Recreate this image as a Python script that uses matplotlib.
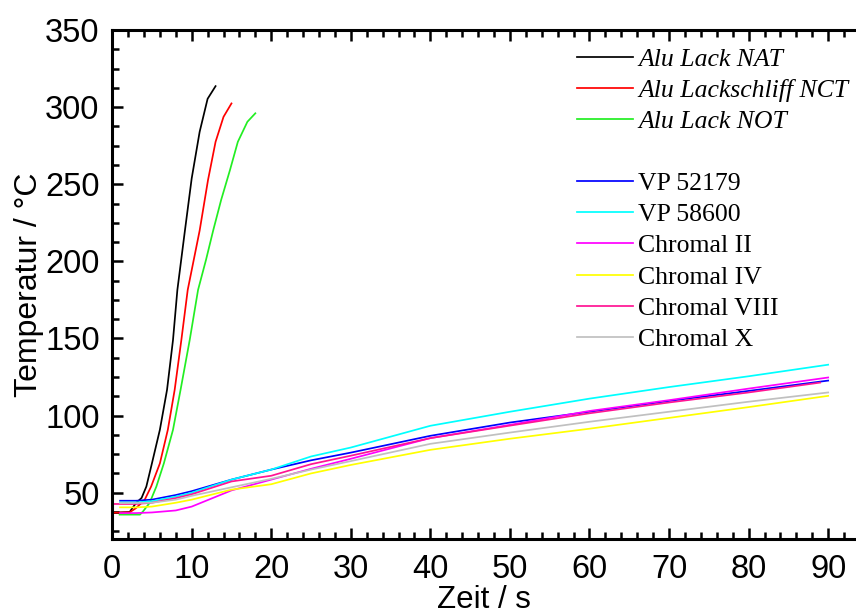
import matplotlib
matplotlib.use("Agg")
import matplotlib.pyplot as plt
from matplotlib.lines import Line2D
from matplotlib.ticker import MultipleLocator

# fast heating curves (aluminium lacquer samples)
t_nat = [0, 2.2, 3.0, 3.7, 4.3, 5.0, 6.0, 6.9, 7.65, 8.2, 9.1, 10.0, 11.0, 12.0, 13.0]
v_nat = [37, 37.5, 43.3, 46.6, 54, 69, 90.8, 116.7, 149, 181.5, 218, 253.8, 284, 305.4, 313.6]

t_nct = [0, 2.2, 3.0, 4.1, 4.9, 6.0, 7.0, 7.86, 8.7, 9.5, 11.0, 12.05, 13.0, 14.0, 15.0]
v_nct = [37, 37.3, 40, 45.5, 54, 69, 90.8, 116.7, 149, 181.5, 220, 252.7, 277.5, 293.7, 302.4]

t_not = [0.94, 3.5, 3.9, 4.7, 5.56, 6.5, 7.65, 8.6, 9.75, 10.8, 11.8, 12.7, 13.7, 14.8, 15.8, 17.0, 18.0]
v_not = [35.8, 35.8, 38, 43.3, 54, 69, 90.8, 116.7, 149, 181.5, 201, 220, 239.8, 259, 277.5, 290.5, 296]

# slow heating curves
t_slow = [1, 3, 5, 8, 10, 15, 20, 25, 30, 40, 50, 60, 70, 80, 90]
v_vp52179 = [44.8, 44.8, 45.5, 48.5, 51, 58.5, 65, 71, 76, 86.9, 95.5, 102.5, 109.5, 116, 122.7]
v_vp58600 = [43.7, 43.7, 44.5, 47.5, 50, 58.5, 65, 73.5, 79.3, 93.4, 102.5, 111, 118.5, 125.5, 133]
v_chr2 = [36.8, 36.8, 37.2, 38.5, 41, 51.5, 58.5, 65.5, 72, 85.4, 94, 103, 110, 117.5, 124.7]
v_chr4 = [40.5, 40.5, 41, 43.5, 45.5, 52, 55.5, 62.5, 68, 77.8, 85, 91.5, 98.5, 105.5, 112.8]
v_chrx = [43.3, 43.3, 43.5, 45.5, 48, 53.5, 59, 65, 70.5, 81.7, 89, 96, 102.5, 109, 115]

t_chr8 = [0, 3, 5, 8, 10, 15, 20, 25, 30, 40, 50, 60, 70, 80, 89]
v_chr8 = [42.7, 42.7, 43.5, 46.5, 49, 57.3, 61, 68.5, 74, 85.4, 93.5, 101.5, 108.5, 115, 121.4]

sans = ["Liberation Sans", "DejaVu Sans"]
serif = ["Liberation Serif", "DejaVu Serif"]

fig = plt.figure(figsize=(8.56, 6.15), dpi=100)
ax = fig.add_axes([0.131, 0.1236, 0.869, 0.8276])

lw = 1.25
ax.plot(t_nat, v_nat, color="black", lw=lw, label="Alu Lack NAT")
ax.plot(t_nct, v_nct, color="#ff0000", lw=lw, label="Alu Lackschliff NCT")
ax.plot(t_not, v_not, color="#22ee22", lw=lw, label="Alu Lack NOT")
ax.plot(t_slow, v_vp52179, color="#0000ff", lw=lw, label="VP 52179")
ax.plot(t_slow, v_vp58600, color="#00ffff", lw=lw, label="VP 58600")
ax.plot(t_slow, v_chr2, color="#ff00ff", lw=lw, label="Chromal II")
ax.plot(t_slow, v_chr4, color="#ffff00", lw=lw, label="Chromal IV")
ax.plot(t_chr8, v_chr8, color="#ff1493", lw=lw, label="Chromal VIII")
ax.plot(t_slow, v_chrx, color="#c0c0c0", lw=lw, label="Chromal X")

ax.set_xlim(0, 93.5)
ax.set_ylim(20, 350)

ax.spines["right"].set_visible(False)
for s in ["left", "bottom", "top"]:
    ax.spines[s].set_linewidth(2.2)

ax.xaxis.set_major_locator(MultipleLocator(10))
ax.xaxis.set_minor_locator(MultipleLocator(2))
ax.yaxis.set_major_locator(MultipleLocator(50))
ax.yaxis.set_minor_locator(MultipleLocator(12.5))
ax.set_yticks([50, 100, 150, 200, 250, 300, 350])

ax.tick_params(which="both", direction="in", top=True, right=False, width=1.8)
ax.tick_params(which="major", length=8)
ax.tick_params(which="minor", length=5)
ax.tick_params(axis="x", pad=11, labelsize=23.5)
ax.tick_params(axis="y", pad=9, labelsize=23.5)
for lab in ax.get_xticklabels() + ax.get_yticklabels():
    lab.set_family(sans)

ax.set_xlabel("Zeit / s", family=sans, fontsize=22.5, labelpad=0)
ax.set_ylabel("Temperatur / °C", family=sans, fontsize=23, labelpad=1)

handles, labels = ax.get_legend_handles_labels()
blank = Line2D([], [], color="none", label=" ")
handles = handles[:3] + [blank] + handles[3:]
labels = labels[:3] + [" "] + labels[3:]
leg = ax.legend(handles, labels, loc="upper left", bbox_to_anchor=(577 / 856, 1 - 48 / 615),
                bbox_transform=fig.transFigure, frameon=False, borderpad=0, borderaxespad=0,
                handlelength=2.18, handletextpad=0.2, labelspacing=0.315,
                prop={"family": serif, "size": 18.5})
for txt in leg.get_texts()[:3]:
    txt.set_fontstyle("italic")

fig.savefig("out.png", dpi=100)
